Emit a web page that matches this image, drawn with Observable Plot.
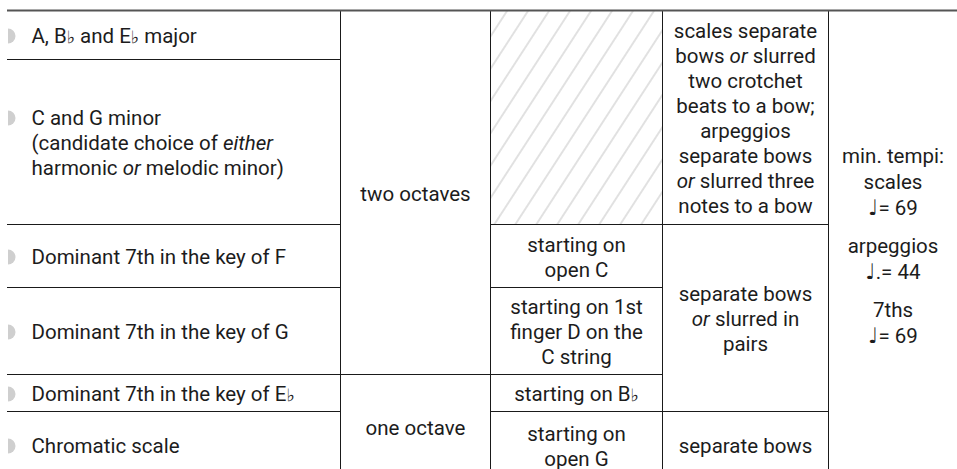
<!DOCTYPE html>
<html>
<head>
<meta charset="utf-8">
<script src="https://cdn.jsdelivr.net/npm/d3@7"></script>
<script src="https://cdn.jsdelivr.net/npm/@observablehq/plot@0.6"></script>
<style>
  html, body { margin: 0; padding: 0; background: #fff; overflow: hidden; }
  #chart svg { display: block; }
</style>
</head>
<body>
<div id="chart"></div>
<script>
// ---------- DATA ----------
// Column 1: scale / arpeggio types (one table row each); _x_ marks italic text
const rowLabels = [
  "A, B♭ and E♭ major",
  "C and G minor\n(candidate choice of _either_\nharmonic _or_ melodic minor)",
  "Dominant 7th in the key of F",
  "Dominant 7th in the key of G",
  "Dominant 7th in the key of E♭",
  "Chromatic scale"
];
// Column 2: range, with the rows each entry spans [first, end)
const rangeLabels = ["two octaves", "one octave"];
const rangeSpans = [[0, 4], [4, 6]];
// Column 3: starting notes (null = hatched / not applicable)
const startLabels = [
  null,
  "starting on\nopen C",
  "starting on 1st\nfinger D on the\nC string",
  "starting on B♭",
  "starting on\nopen G"
];
const startSpans = [[0, 2], [2, 3], [3, 4], [4, 5], [5, 6]];
// Column 4: bowing
const bowingLabels = [
  "scales separate\nbows _or_ slurred\ntwo crotchet\nbeats to a bow;\narpeggios\nseparate bows\n_or_ slurred three\nnotes to a bow",
  "separate bows\n_or_ slurred in\npairs",
  "separate bows"
];
const bowingSpans = [[0, 2], [2, 5], [5, 6]];
// Column 5: minimum tempi (one cell spanning all rows), in paragraphs
const tempoParagraphs = [
  ["min. tempi:", "scales", "♩= 69"],
  ["arpeggios", "♩.= 44"],
  ["7ths", "♩= 69"]
];

// ---------- LAYOUT ----------
const W = 957, H = 469;
const COL_EDGES = [7, 340, 490, 662, 828, 957];
const ROW_EDGES = [10, 59, 224, 287, 374, 411, 478];
const FONT = 20.5, LINE = 25, TEMPO_LINE = 26, PARA_GAP = 12;
const NROWS = ROW_EDGES.length - 1, NCOLS = COL_EDGES.length - 1;

const colIdx = COL_EDGES.map((_, i) => i);
const rowIdx = ROW_EDGES.map((_, i) => i);
const xL = d3.scaleLinear(colIdx, COL_EDGES);
const yL = d3.scaleLinear(rowIdx, ROW_EDGES);
const midRow = (a, b) => yL.invert((yL(a) + yL(b)) / 2);
const midCol = (a, b) => xL.invert((xL(a) + xL(b)) / 2);

// Build table cells
const cells = [];
rowLabels.forEach((t, i) => cells.push({col: 0, r0: i, r1: i + 1, text: t}));
rangeLabels.forEach((t, i) => cells.push({col: 1, r0: rangeSpans[i][0], r1: rangeSpans[i][1], text: t}));
startLabels.forEach((t, i) => cells.push({col: 2, r0: startSpans[i][0], r1: startSpans[i][1], text: t, hatched: t === null}));
bowingLabels.forEach((t, i) => cells.push({col: 3, r0: bowingSpans[i][0], r1: bowingSpans[i][1], text: t}));
cells.push({col: 4, r0: 0, r1: NROWS, paragraphs: tempoParagraphs});

const nLines = t => t.split("\n").length;
const firstCol = cells.filter(d => d.col === 0);
const centered = cells.filter(d => d.col > 0 && d.text);
const tempoCell = cells.find(d => d.paragraphs);

// Half-disc bullet symbol
const halfDisc = {
  draw(ctx, size) {
    const r = Math.sqrt(size / Math.PI);
    ctx.moveTo(0, -r);
    ctx.arc(0, 0, r, -Math.PI / 2, Math.PI / 2);
    ctx.closePath();
  }
};

// Tempo paragraphs placement (offsets from cell centre)
const tp = tempoCell.paragraphs;
const totalH = tp.reduce((s, p) => s + p.length * TEMPO_LINE, 0) + (tp.length - 1) * PARA_GAP;
let acc = -totalH / 2;
const tempoMarks = tp.map((p, k) => {
  const c = acc + (p.length * TEMPO_LINE) / 2;
  acc += p.length * TEMPO_LINE + PARA_GAP;
  return Plot.text([tempoCell], {
    x: d => midCol(d.col, d.col + 1),
    y: d => midRow(d.r0, d.r1),
    text: () => p.join("\n"),
    dy: c,
    textAnchor: "middle",
    lineAnchor: "middle",
    lineHeight: TEMPO_LINE / FONT,
    fontSize: FONT
  });
});

const bulletMarks = firstCol.map(d => Plot.dot([d], {
  x: d => d.col,
  y: d => midRow(d.r0, d.r1),
  dx: 0.5,
  dy: -(nLines(d.text) - 1) / 2 * LINE + 1,
  r: 7.5,
  symbol: halfDisc,
  fill: "#cfcfcf",
  stroke: "none"
}));

const plot = Plot.plot({
  width: W,
  height: H,
  margin: 0,
  style: {
    fontFamily: "Roboto, 'DejaVu Sans', sans-serif",
    fontSize: FONT + "px",
    color: "#1c1c1c",
    background: "#fff"
  },
  x: {type: "linear", domain: colIdx, range: COL_EDGES, axis: null},
  y: {type: "linear", domain: rowIdx, range: ROW_EDGES, axis: null},
  marks: [
    Plot.rect(cells.filter(d => d.hatched), {
      x1: d => d.col, x2: d => d.col + 1, y1: "r0", y2: "r1",
      fill: "url(#hatch)", inset: 0
    }),
    Plot.ruleY(cells.filter(d => d.r1 < NROWS), {
      y: "r1", x1: d => d.col, x2: d => d.col + 1,
      stroke: "#1a1a1a", strokeWidth: 1
    }),
    Plot.ruleX(cells.filter(d => d.col + 1 < NCOLS), {
      x: d => d.col + 1, y1: "r0", y2: "r1",
      stroke: "#1a1a1a", strokeWidth: 1
    }),
    Plot.ruleY([0], {
      y: d => d, x1: () => 0, x2: () => NCOLS,
      stroke: "#555", strokeWidth: 2
    }),
    ...bulletMarks,
    Plot.text(firstCol, {
      x: d => d.col, y: d => midRow(d.r0, d.r1), text: "text",
      dx: 24, textAnchor: "start", lineAnchor: "middle",
      lineHeight: LINE / FONT, fontSize: FONT
    }),
    Plot.text(centered, {
      x: d => midCol(d.col, d.col + 1), y: d => midRow(d.r0, d.r1), text: "text",
      textAnchor: "middle", lineAnchor: "middle",
      lineHeight: LINE / FONT, fontSize: FONT
    }),
    ...tempoMarks
  ]
});

// Hatch pattern definition
const svgSel = d3.select(plot);
const defs = svgSel.insert("defs", ":first-child");
const S = 17.6;
const pat = defs.append("pattern")
  .attr("id", "hatch")
  .attr("patternUnits", "userSpaceOnUse")
  .attr("width", S).attr("height", S)
  .attr("patternTransform", "rotate(33)");
pat.append("rect").attr("width", S).attr("height", S).attr("fill", "#fff");
pat.append("line")
  .attr("x1", S / 2).attr("x2", S / 2).attr("y1", -1).attr("y2", S + 1)
  .attr("stroke", "#c4c4c4").attr("stroke-width", 1);

// Rich text: _..._ → italic; musical symbols get their own styling
const NS = "http://www.w3.org/2000/svg";
function styledSpan(part, italic) {
  const frag = document.createDocumentFragment();
  part.split(/([♭♩])/).forEach(seg => {
    if (!seg) return;
    const t = document.createElementNS(NS, "tspan");
    if (italic) t.setAttribute("font-style", "italic");
    if (seg === "♭") {
      t.setAttribute("font-family", "'DejaVu Sans'");
      t.setAttribute("font-weight", "bold");
      t.setAttribute("font-size", "0.85em");
    } else if (seg === "♩") {
      t.setAttribute("font-family", "'DejaVu Sans'");
      t.setAttribute("font-size", "1.05em");
    }
    t.textContent = seg;
    frag.appendChild(t);
  });
  return frag;
}
function enrich(node) {
  const s = node.textContent;
  if (!/[_♭♩]/.test(s)) return;
  node.textContent = "";
  s.split("_").forEach((part, i) => {
    if (!part) return;
    node.appendChild(styledSpan(part, i % 2 === 1));
  });
}
plot.querySelectorAll("text").forEach(t => {
  const spans = t.querySelectorAll(":scope > tspan");
  if (spans.length) spans.forEach(enrich); else enrich(t);
});

document.getElementById("chart").appendChild(plot);
</script>
</body>
</html>
